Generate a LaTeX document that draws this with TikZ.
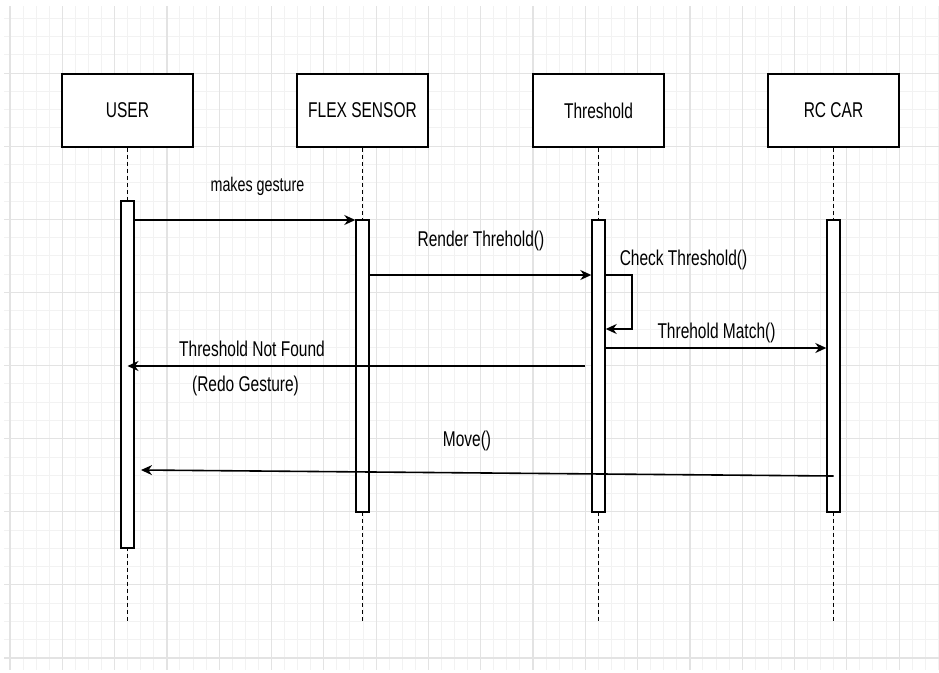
\documentclass[tikz,border=0pt]{standalone}
\usepackage{fontspec}
\setmainfont{Liberation Sans}
\usetikzlibrary{arrows.meta}
\newcommand{\tx}[1]{\scalebox{1}[1.38]{#1}}
\definecolor{gridminor}{HTML}{F2F2F2}
\definecolor{gridmajor}{HTML}{E3E3E3}
\begin{document}
\begin{tikzpicture}[x=1pt,y=-1pt,
  actor/.style={draw=black, line width=1.8pt, fill=white, minimum width=131pt, minimum height=73pt, inner sep=0pt, font=\fontsize{15.5}{18}\selectfont},
  bar/.style={draw=black, line width=1.4pt, fill=white, minimum width=13pt, inner sep=0pt},
  life/.style={draw=black, line width=1.4pt, dash pattern=on 4pt off 3pt},
  msg/.style={draw=black, line width=1.6pt, -{Stealth[length=11pt,width=10pt]}},
  lbl/.style={anchor=base, inner sep=0pt, font=\fontsize{15.5}{18}\selectfont},
  minorline/.style={draw=gridminor, line width=1pt},
  majorline/.style={draw=gridmajor, line width=1.2pt},
]
\useasboundingbox[fill=white] (0,0) rectangle (939,672);
% grid
\foreach \i in {0,...,71} {
  \pgfmathsetmacro\gx{10+13.075*\i}
  \draw[minorline] (\gx,6) -- (\gx,670);
}
\foreach \i in {1,...,36} {
  \pgfmathsetmacro\gy{18.28*\i}
  \draw[minorline] (4,\gy) -- (939,\gy);
}
\foreach \i in {0,...,17} {
  \pgfmathsetmacro\gx{10+52.3*\i}
  \draw[majorline] (\gx,6) -- (\gx,670);
}
\foreach \i in {1,...,9} {
  \pgfmathsetmacro\gy{73.1*\i}
  \draw[majorline] (4,\gy) -- (939,\gy);
}
% actors
\node[actor] (user) at (127.5,110.5) {\tx{USER}};
\node[actor] (flex) at (362.5,110.5) {\tx{FLEX SENSOR}};
\node[actor] (thr)  at (598.5,110.5) {\tx{Threshold}};
\node[actor] (rc)   at (833.5,110.5) {\tx{RC CAR}};
% lifeline ends
\coordinate (e1) at (127.5,622);
\coordinate (e2) at (362.5,622);
\coordinate (e3) at (598.5,622);
\coordinate (e4) at (833.5,622);
\draw[life] (user.south) -- (e1);
\draw[life] (flex.south) -- (e2);
\draw[life] (thr.south) -- (e3);
\draw[life] (rc.south) -- (e4);
% activation bars
\node[bar, minimum height=347pt] (b1) at (127.5,374.5) {};
\node[bar, minimum height=292pt] (b2) at (362.5,366) {};
\node[bar, minimum height=292pt] (b3) at (598.5,366) {};
\node[bar, minimum height=292pt] (b4) at (833.5,366) {};
% messages
\draw[msg] (b1.east |- 0,220) -- (b2.west |- 0,220);
\node[lbl, font=\fontsize{14.3}{17}\selectfont] (l1) at (257.5,191.5) {\tx{makes gesture}};
\draw[msg] (b2.east |- 0,275) -- (b3.west |- 0,275);
\node[lbl] (l2) at (481,246.7) {\tx{Render Threhold()}};
\draw[msg] (b3.east |- 0,275) -- ++(26,0) -- ++(0,54) -- (b3.east |- 0,329);
\node[lbl] (l3) at (683.5,265.5) {\tx{Check Threshold()}};
\draw[msg] (b3.east |- 0,348) -- (b4.west |- 0,348);
\node[lbl] (l4) at (716.5,338) {\tx{Threhold Match()}};
\coordinate (nf) at (585,366);
\draw[msg] (nf) -- (b1.center |- 0,366);
\node[lbl] (l5) at (252,356.7) {\tx{Threshold Not Found}};
\node[lbl] (l6) at (245.5,391.2) {\tx{(Redo Gesture)}};
\coordinate (mv) at (141,470);
\draw[msg] (b4.center |- 0,476) -- (mv);
\node[lbl] (l7) at (467,446.5) {\tx{Move()}};
\end{tikzpicture}
\end{document}
